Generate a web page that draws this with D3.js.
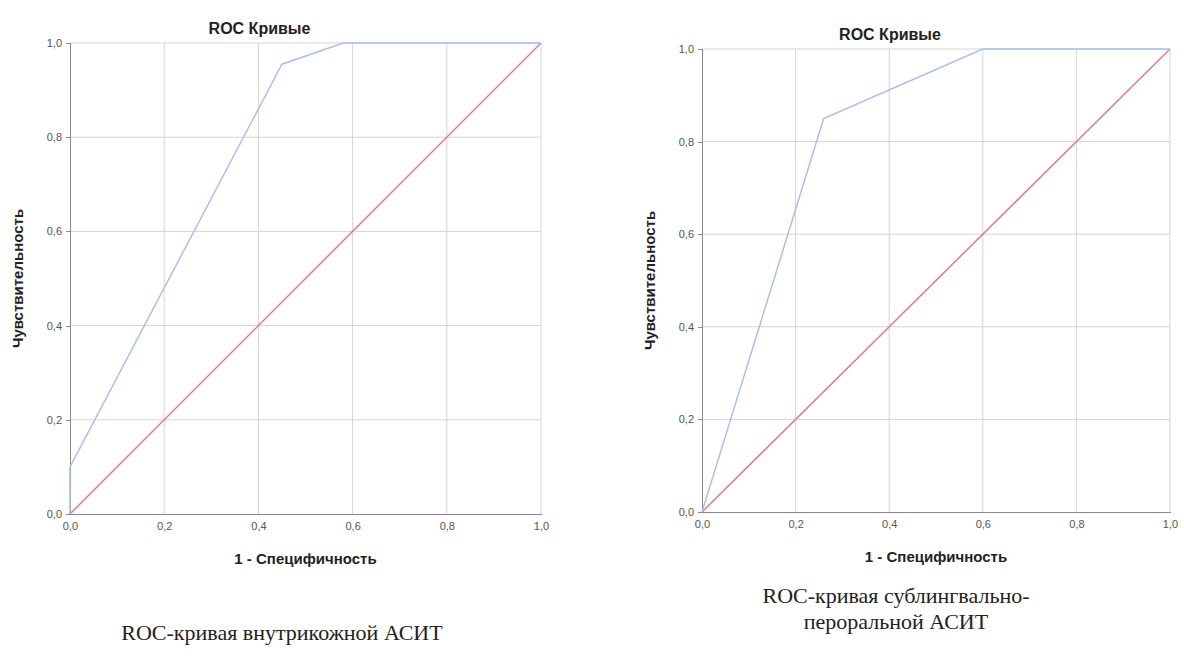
<!DOCTYPE html>
<html lang="ru">
<head>
    <meta charset="UTF-8">
    <title>ROC Кривые</title>
    <script src="https://d3js.org/d3.v7.min.js"></script>
    <style>
        body { margin: 0; background: #fff; }
        .grid line { stroke: #d4d4d4; stroke-width: 1; }
        .axis path, .axis line { stroke: #8a8a8a; shape-rendering: crispEdges; }
        .axis text { font-family: "Liberation Sans", Arial, sans-serif; font-size: 11px; fill: #555; }
        .chart-title { font-family: "Liberation Sans", Arial, sans-serif; font-weight: bold; font-size: 16px; fill: #222; text-anchor: middle; }
        .axis-title { font-family: "Liberation Sans", Arial, sans-serif; font-weight: bold; font-size: 15px; fill: #222; text-anchor: middle; }
        .caption { font-family: "Liberation Serif", "Times New Roman", serif; font-size: 22px; fill: #222; text-anchor: middle; }
        .roc { fill: none; stroke: #a8c0e8; stroke-width: 1.5; }
        .ref { fill: none; stroke: #e07c8c; stroke-width: 1.5; }
    </style>
</head>
<body>
    <svg width="1184" height="666"></svg>
    <script>
        // tick values shared by both axes
        const tickValues = [0, 0.2, 0.4, 0.6, 0.8, 1.0];

        // left: внутрикожная АСИТ
        const intraFpr = [0, 0, 0.45, 0.58, 1];
        const intraTpr = [0, 0.1, 0.955, 1, 1];

        // right: сублингвально-пероральная АСИТ
        const subFpr = [0, 0.26, 0.6, 1];
        const subTpr = [0, 0.85, 1, 1];

        // reference diagonal
        const refFpr = [0, 1];
        const refTpr = [0, 1];

        const titleText = "ROC Кривые";
        const xTitle = "1 - Специфичность";
        const yTitle = "Чувствительность";

        const fmt = d => d3.format(".1f")(d).replace(".", ",");
        const zip = (a, b) => a.map((v, i) => [v, b[i]]);

        const svg = d3.select("svg");

        function drawPanel(p) {
            const x = d3.scaleLinear().domain([0, 1]).range([p.left, p.right]);
            const y = d3.scaleLinear().domain([0, 1]).range([p.bottom, p.top]);
            const g = svg.append("g");

            // grid
            g.append("g").attr("class", "grid")
                .selectAll("line").data(tickValues.slice(1)).enter().append("line")
                .attr("x1", d => x(d)).attr("x2", d => x(d))
                .attr("y1", y(0)).attr("y2", y(1));
            g.append("g").attr("class", "grid")
                .selectAll("line").data(tickValues.slice(1)).enter().append("line")
                .attr("x1", x(0)).attr("x2", x(1))
                .attr("y1", d => y(d)).attr("y2", d => y(d));

            // axes
            g.append("g").attr("class", "axis")
                .attr("transform", `translate(0,${y(0)})`)
                .call(d3.axisBottom(x).tickValues(tickValues).tickFormat(fmt).tickSize(0).tickPadding(8))
                .call(a => a.select(".domain").attr("stroke-width", 1.5));
            g.append("g").attr("class", "axis")
                .attr("transform", `translate(${x(0)},0)`)
                .call(d3.axisLeft(y).tickValues(tickValues).tickFormat(fmt).tickSize(4).tickPadding(4))
                .call(a => a.select(".domain").attr("stroke-width", 1.5));

            const line = d3.line().x(d => x(d[0])).y(d => y(d[1]));
            g.append("path").attr("class", "ref").attr("d", line(zip(refFpr, refTpr)));
            g.append("path").attr("class", "roc").attr("d", line(zip(p.fpr, p.tpr)));

            const cx = (p.left + p.right) / 2;
            g.append("text").attr("class", "chart-title").attr("x", cx - 46).attr("y", p.top - 9).text(titleText);
            g.append("text").attr("class", "axis-title").attr("x", cx).attr("y", p.bottom + 50).text(xTitle);
            g.append("text").attr("class", "axis-title")
                .attr("transform", `translate(${p.left - 47},${(p.top + p.bottom) / 2}) rotate(-90)`)
                .text(yTitle);

            const cap = g.append("text").attr("class", "caption").attr("x", p.capX).attr("y", p.capY);
            p.caption.forEach((t, i) => cap.append("tspan").attr("x", p.capX).attr("dy", i ? 26 : 0).text(t));
        }

        drawPanel({
            left: 70, right: 541, top: 43, bottom: 514,
            fpr: intraFpr, tpr: intraTpr,
            caption: ["ROC-кривая внутрикожной АСИТ"], capX: 282, capY: 640
        });
        drawPanel({
            left: 702, right: 1170, top: 49, bottom: 512,
            fpr: subFpr, tpr: subTpr,
            caption: ["ROC-кривая сублингвально-", "пероральной АСИТ"], capX: 896, capY: 603
        });
    </script>
</body>
</html>
